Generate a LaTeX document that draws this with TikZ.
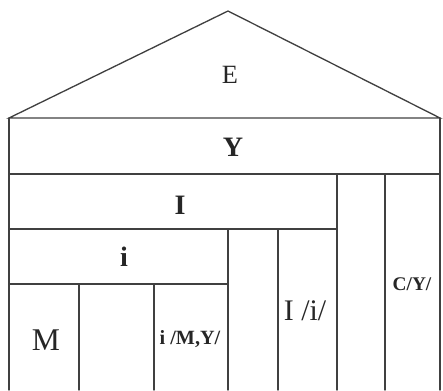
\documentclass[tikz,border=0pt]{standalone}
\usepackage{fontspec}
\setmainfont{Liberation Serif}
\usepackage{tikz}
\usetikzlibrary{positioning}
\tikzset{
  wall/.style={draw=black!75, line width=0.75pt, line cap=round, line join=miter},
  lbl/.style={inner sep=1pt, text=black!85},
  biglbl/.style={lbl, font=\fontsize{16}{18}\selectfont\bfseries},
  collbl/.style={lbl, font=\fontsize{17}{19}\selectfont},
  smalllbl/.style={lbl, font=\fontsize{11}{13}\selectfont\bfseries},
}

\begin{document}
\begin{tikzpicture}[x=0.02cm, y=-0.02cm]
  \useasboundingbox (0,0) rectangle (443,390);
  % corner points of the building
  \coordinate (apex) at (228,11);
  \coordinate (eaveL) at (9,118);
  \coordinate (eaveR) at (440,118);
  \coordinate (baseL) at (9,390);
  \coordinate (baseR) at (440,390);
  % roof and outer walls
  \draw[wall] (eaveL) -- (apex) -- (eaveR) -- cycle;
  \draw[wall] (eaveL) -- (baseL);
  \draw[wall] (eaveR) -- (baseR);
  % bands
  \draw[wall] (9,174) -- (440,174);
  \draw[wall] (9,229) -- (337,229);
  \draw[wall] (9,284) -- (228,284);
  % columns
  \foreach \cx/\top in {337/174, 385/174, 228/229, 278/229, 79/284, 154/284}
    \draw[wall] (\cx,\top) -- (\cx,390);
  % labels
  \node[lbl, font=\fontsize{15}{17}\selectfont] (roof) at (230,75) {E};
  \node[biglbl] (bandY) at (233,147) {Y};
  \node[biglbl] (bandI) at (180,205) {I};
  \node[biglbl] (bandi) at (124,257) {i};
  \node[collbl, font=\fontsize{18}{20}\selectfont] (colM) at (46,340) {M};
  \node[smalllbl, font=\fontsize{11.5}{13}\selectfont\bfseries] (colMY) at (190,339) {i /M,Y/};
  \node[collbl] (coli) at (305,311) {I /i/};
  \node[smalllbl] (colY) at (412,284) {C/Y/};
\end{tikzpicture}
\end{document}
